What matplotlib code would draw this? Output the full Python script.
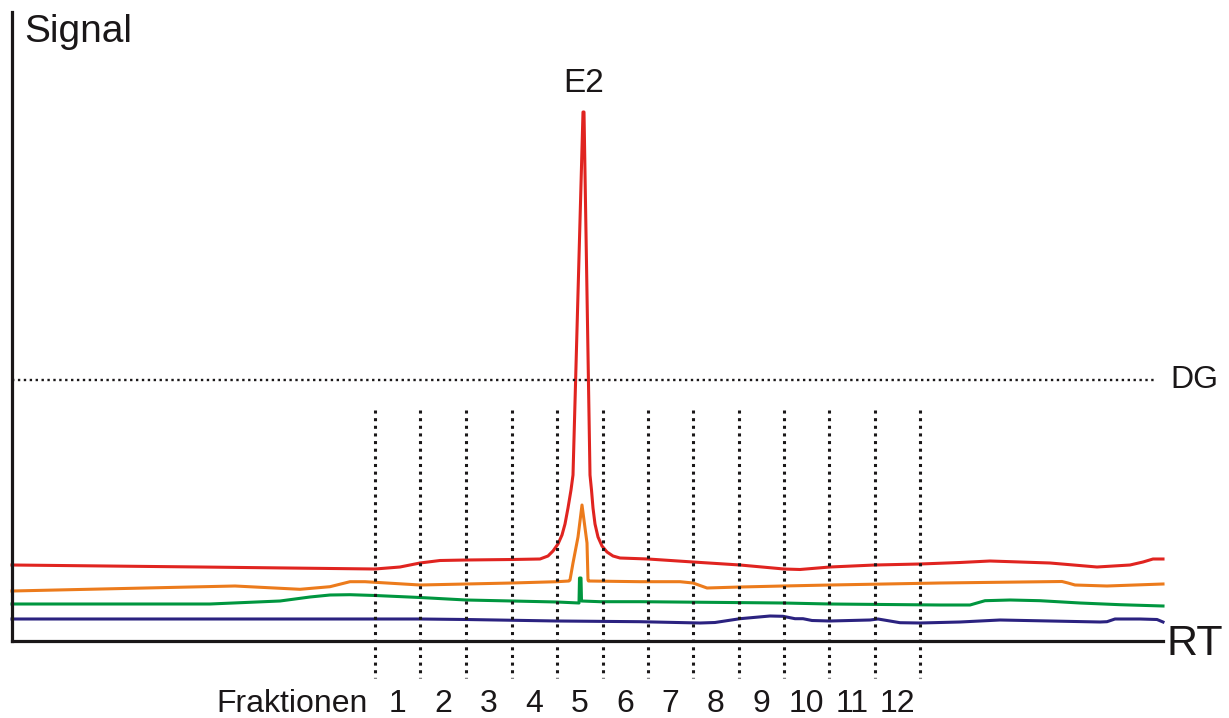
import matplotlib.pyplot as plt

plt.rcParams['font.family'] = ['Liberation Sans', 'DejaVu Sans']

# Retention time (rt) and detector signal for each trace
red_rt = [0, 188, 363, 388, 408, 428, 454, 500, 528, 536, 541, 546, 550, 553, 556, 559, 561,
          571, 572, 578, 579.5, 581, 583, 586, 590, 595, 601, 608, 636, 681, 728, 772, 788,
          818, 863, 908, 948, 978, 1038, 1085, 1118, 1131, 1141, 1151]
red_sig = [76, 74, 72, 74, 78, 80.5, 81, 81.5, 82, 85, 90, 97, 106, 117, 133, 151, 166,
           529, 529, 166, 151, 133, 117, 104, 95, 89, 85, 83, 82, 79, 76, 72, 71.5,
           74, 76, 77, 78.5, 80, 78, 74, 76, 79, 82, 82]

orange_rt = [0, 223, 288, 318, 338, 353, 363, 408, 454, 500, 545, 557, 558, 561, 566, 570,
             575, 576, 576.5, 628, 668, 681, 695, 728, 771, 818, 928, 1050, 1056, 1063,
             1095, 1151]
orange_sig = [50, 55, 51.7, 54.3, 59.3, 59.3, 58.7, 56, 57, 58, 59.3, 60, 61, 78, 104, 136,
              98, 61, 60, 59.3, 59.3, 58, 53, 54, 55, 56, 58, 59.5, 58, 56,
              55, 57]

green_rt = [0, 198, 268, 298, 318, 338, 363, 408, 454, 500, 545, 567, 567.5, 569, 569.5,
            588, 628, 771, 818, 928, 958, 973, 998, 1028, 1068, 1108, 1151]
green_sig = [37, 37, 40, 44, 46, 46.3, 45.5, 43.5, 41, 40, 39, 38, 63, 63, 40,
             39.3, 39.3, 38, 37, 36, 36, 40.3, 41, 40.3, 38, 36.3, 35]

navy_rt = [0, 408, 454, 545, 628, 688, 703, 728, 758, 771, 783, 791, 800, 818, 858, 866,
           888, 908, 948, 988, 1088, 1095, 1103, 1128, 1145, 1151]
navy_sig = [22, 22, 21.5, 20, 19.3, 18, 18.5, 22.3, 25, 24.7, 22.3, 22.3, 20.5, 20, 21, 22,
            18.3, 18, 19, 21, 19, 19.3, 22, 22, 21.5, 19]

# Fraction collection windows
fraction_edges = [363, 408, 454, 500, 545, 591, 636, 681, 727, 772, 817, 863, 908]
fraction_labels = ['1', '2', '3', '4', '5', '6', '7', '8', '9', '10', '11', '12']

dg_level = 261
peak_name = 'E2'

W, H = 1229, 718
fig = plt.figure(figsize=(W / 100, H / 100), dpi=100)
ax = fig.add_axes([12 / W, (H - 641) / H, 1151 / W, 629 / H])
ax.set_xlim(0, 1151)
ax.set_ylim(0, 629)

for s in ['top', 'right']:
    ax.spines[s].set_visible(False)
for s in ['left', 'bottom']:
    ax.spines[s].set_linewidth(2.3)
    ax.spines[s].set_color('#1a1718')
ax.set_xticks([])
ax.set_yticks([])

lw = 2.2
ax.plot(navy_rt, navy_sig, color='#2b2280', lw=lw, solid_joinstyle='round', clip_on=False)
ax.plot(green_rt, green_sig, color='#00963f', lw=lw, solid_joinstyle='round', clip_on=False)
ax.plot(orange_rt, orange_sig, color='#ec7b1c', lw=lw, solid_joinstyle='round', clip_on=False)
ax.plot(red_rt, red_sig, color='#e02420', lw=lw, solid_joinstyle='round', clip_on=False)

# detection limit line
ax.plot([0, 1145], [dg_level, dg_level], color='#1a1718', lw=1.7,
        linestyle=(0, (1, 1.5)), clip_on=False)
ax.text(1158, dg_level, 'DG', fontsize=23, va='center', ha='left', color='#1a1718')

# fraction boundaries
for e in fraction_edges:
    ax.plot([e, e], [231, -37], color='#1a1718', lw=2.2,
            linestyle=(0, (1, 1.5)), clip_on=False)
for i, lab in enumerate(fraction_labels):
    mid = (fraction_edges[i] + fraction_edges[i + 1]) / 2
    ax.text(mid, -63, lab, fontsize=23, ha='center', va='center', color='#1a1718')
ax.text(280, -63, 'Fraktionen', fontsize=23, ha='center', va='center', color='#1a1718')

# peak label
apex = red_sig.index(max(red_sig))
ax.text(red_rt[apex] + 1, max(red_sig) + 13, peak_name, fontsize=24, ha='center',
        va='bottom', color='#1a1718')

fig.text(24 / W, 1 - 32 / H, 'Signal', fontsize=28, ha='left', va='center', color='#1a1718')
fig.text(1166 / W, 1 - 644 / H, 'RT', fontsize=31, ha='left', va='center', color='#1a1718')

fig.savefig('out.png', dpi=100, facecolor='white')
